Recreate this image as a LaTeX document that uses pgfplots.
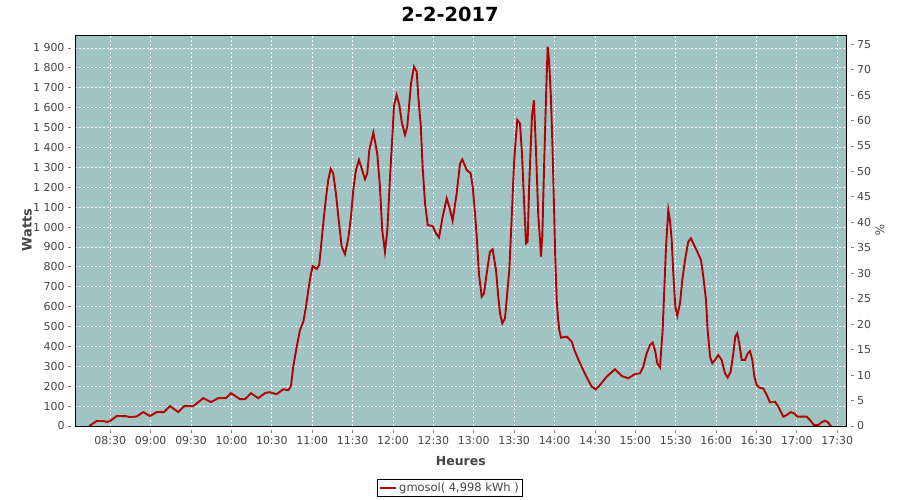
\documentclass[border=0pt]{standalone}
\usepackage{fontspec}
\setmainfont{DejaVu Sans}
\usepackage{pgfplots}
\pgfplotsset{compat=1.18}
\definecolor{bg}{RGB}{159,196,195}
\definecolor{serie}{RGB}{180,0,0}
\definecolor{axgray}{RGB}{128,128,128}
\definecolor{txt}{RGB}{68,68,68}
\begin{document}
\begin{tikzpicture}
\useasboundingbox (0bp,0bp) rectangle (900bp,500bp);
\begin{axis}[
  at={(75bp,74bp)}, anchor=south west,
  scale only axis, width=771.7bp, height=391bp,
  xmin=483.8, xmax=1057, ymin=0, ymax=1965.3,
  axis background/.style={fill=bg},
  axis line style={black, line width=0.8bp},
  xtick={510,540,...,1050},
  xticklabels={08:30,09:00,09:30,10:00,10:30,11:00,11:30,12:00,12:30,13:00,13:30,14:00,14:30,15:00,15:30,16:00,16:30,17:00,17:30},
  ytick={0,100,...,1900},
  yticklabels={0,100,200,300,400,500,600,700,800,900,1 000,1 100,1 200,1 300,1 400,1 500,1 600,1 700,1 800,1 900},
  xtick pos=bottom, ytick pos=left,
  tick align=outside, major tick length=3bp,
  tick style={axgray, line width=0.8bp},
  every x tick/.append style={yshift=-4bp},
  every y tick/.append style={xshift=-4bp},
  xticklabel style={yshift=-4bp, font=\fontsize{11}{13}\selectfont, text=txt},
  yticklabel style={xshift=-4bp, font=\fontsize{11}{13}\selectfont, text=txt},
  grid=major,
  major grid style={white, line width=0.8bp, dash pattern=on 2bp off 2bp},
  xlabel={Heures}, ylabel={Watts},
  xlabel style={at={(axis description cs:0.5,-0.0895)}, anchor=center, font=\bfseries\fontsize{12.5}{14}\selectfont, text=txt},
  ylabel style={at={(axis description cs:-0.0622,0.501)}, anchor=center, font=\bfseries\fontsize{13}{15}\selectfont, text=txt},
  title={2-2-2017},
  title style={at={(axis description cs:0.486,1.0384)}, anchor=center, yshift=0pt, font=\bfseries\fontsize{19.5}{21}\selectfont},
  legend style={at={(axis description cs:0.486,-0.1586)}, anchor=center, draw=black, line width=0.8bp, font=\fontsize{11.5}{13}\selectfont, text=txt, inner sep=1.5bp, row sep=0bp},
  legend image code/.code={\draw[#1] (0bp,0bp) -- (16bp,0bp);},
]
\addplot[serie, line width=1.9bp, sharp plot] coordinates {
(494.4,0) (499.9,25) (505.3,25) (507.3,20) (509.8,25) (514.8,50) (520.9,50) (524.6,45) (529.6,48)
(534.5,70) (539.5,50) (544.5,70) (549.9,70) (554.3,100) (560.5,70) (565,100) (571.7,100)
(579.1,140) (584.8,120) (590.2,140) (595.9,140) (599.7,165) (606.3,135) (610.1,135) (614.5,165)
(619.9,140) (624.9,165) (628.1,170) (633.6,160) (638.5,185) (642.2,180) (644.2,200) (645.9,298)
(648.5,399) (650.9,482) (653.4,524) (655.4,600) (657.1,683) (658.9,759) (660.3,804) (663.3,789)
(665.2,809) (667,935) (668.7,1052) (670.2,1144) (671.9,1236) (673.7,1292) (675.6,1270) (677.6,1170)
(679.4,1052) (681.9,901) (684.3,864) (686.8,943) (688.8,1052) (690.5,1186) (692.5,1287) (694.7,1337)
(696.7,1295) (699.2,1241) (700.9,1270) (702.4,1387) (705.4,1474) (708.3,1370) (710.3,1203) (712,985)
(714,876) (715.8,985) (717.8,1253) (719.8,1488) (720.7,1608) (722.7,1664) (724.7,1613) (726.5,1529)
(728.9,1463) (730.6,1504) (732.1,1622) (733.4,1722) (735.6,1806) (737.6,1781) (738.8,1655) (740.6,1513)
(742,1303) (743.8,1119) (745.8,1010) (749.5,1005) (751.9,969) (754.2,948) (756.9,1052) (759.9,1144)
(761.8,1102) (764.3,1032) (767.3,1170) (769.8,1320) (771.5,1340) (774.7,1287) (777.7,1270) (779.2,1203)
(780.9,1069) (782.2,951) (783.9,760) (785.9,650) (787.6,667) (789.6,767) (792,876) (794,888)
(796.5,784) (798.2,650) (799.5,566) (801.2,516) (803.2,541) (804.4,633) (806.4,784) (808.2,1052)
(809.9,1320) (811.3,1454) (812.3,1538) (814.3,1521) (815.8,1370) (817.3,1136) (818.8,918) (820,926)
(821.2,1220) (823.2,1555) (824.7,1638) (826.2,1387) (827.9,1060) (829.2,935) (829.9,851) (830.9,951)
(832.1,1270) (833.1,1521) (834.2,1773) (834.9,1906) (835.9,1840) (837.4,1638) (838.6,1370) (839.6,1102)
(840.5,851) (841.6,633) (842.5,549) (843.5,482) (844.8,444) (849.2,449) (852.7,424) (855.2,374)
(858.4,323) (861.3,281) (864.3,240) (867.6,198) (870.6,184) (873.7,206) (878.7,248) (884.9,285)
(889.9,251) (894.8,240) (899.7,261) (903.5,265) (905.9,298) (908.4,365) (910.9,407) (912.9,419)
(914.6,382) (916.3,315) (918.3,295) (920.3,483) (921.5,684) (922.8,901) (924.5,1086) (925.7,1035)
(927,935) (928.2,767) (929.7,600) (931.2,553) (933.2,617) (934.9,734) (936.9,834) (939.3,926)
(941.3,943) (943.6,910) (946,876) (948.8,834) (950.5,750) (952.5,633) (953.7,483) (955.5,348)
(957.2,315) (959.2,332) (961.6,357) (964.1,332) (966.6,265) (968.6,243) (970.8,273) (972.8,365)
(974.2,449) (975.7,466) (977.2,416) (979,332) (981.4,332) (983.5,365) (985.2,376) (986.9,332)
(988.4,248) (990.1,206) (992.1,193) (995,189) (997.6,156) (1000,119) (1003.7,122) (1006.2,97)
(1009.9,47) (1012.4,55) (1015.4,70) (1017.8,64) (1020.3,47) (1027.3,47) (1029.7,30) (1032.7,5)
(1035.9,5) (1038.4,19) (1040.9,27) (1043.3,17) (1045.3,0)
};
\addlegendentry{gmosol( 4,998 kWh )}
\draw[axgray, line width=0.8bp] ([xshift=-4bp]rel axis cs:0,0) -- ([xshift=-4bp]rel axis cs:0,1);
\draw[axgray, line width=0.8bp] ([yshift=-4bp]rel axis cs:0,0) -- ([yshift=-4bp]rel axis cs:1,0);
\draw[axgray, line width=0.8bp] ([xshift=4bp]rel axis cs:1,0) -- ([xshift=4bp]rel axis cs:1,1);
\end{axis}
\begin{axis}[
  at={(75bp,74bp)}, anchor=south west,
  scale only axis, width=771.7bp, height=391bp,
  xmin=483.8, xmax=1057, ymin=0, ymax=76.8,
  hide x axis,
  axis y line*=right,
  y axis line style={draw=none},
  ytick={0,5,...,75},
  yticklabels={0,5,10,15,20,25,30,35,40,45,50,55,60,65,70,75},
  tick align=outside, major tick length=3bp,
  tick style={axgray, line width=0.8bp},
  every y tick/.append style={xshift=4bp},
  yticklabel style={xshift=4bp, font=\fontsize{11}{13}\selectfont, text=txt},
  ylabel={\%},
  ylabel style={at={(axis description cs:1.0431,0.501)}, anchor=center, rotate=180, font=\fontsize{12}{14}\selectfont, text=txt},
]
\end{axis}
\end{tikzpicture}
\end{document}
